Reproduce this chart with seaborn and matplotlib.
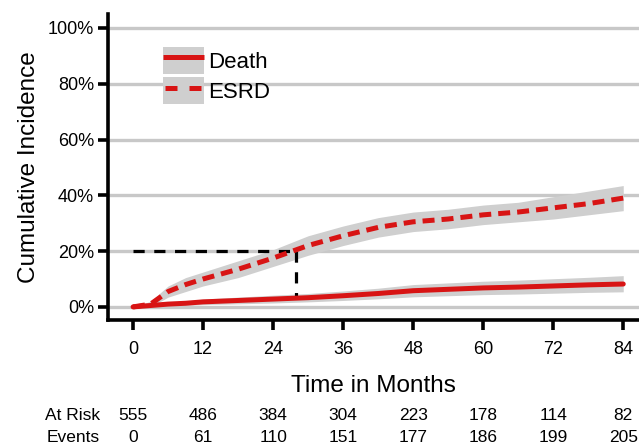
import matplotlib
matplotlib.use("Agg")
import matplotlib.pyplot as plt
import matplotlib.transforms as mtransforms
from matplotlib.patches import Patch
from matplotlib.lines import Line2D
import seaborn as sns
import pandas as pd

months = [0, 3, 6, 9, 12, 18, 24, 30, 36, 42, 48, 54, 60, 66, 72, 78, 84]
esrd = [0, 1, 5.5, 8, 10, 13.5, 17.5, 22, 25.5, 28.5, 30.5, 31.5, 33, 34, 35.5, 37, 39]
esrd_lo = [0, 0, 3.5, 5.5, 7.5, 10.5, 14.5, 18.5, 22, 25, 27, 28, 29.5, 30.5, 31.5, 33, 34.5]
esrd_hi = [0, 2, 7.5, 10.5, 12.5, 16.5, 20.5, 25.5, 29, 32, 34, 35, 36.5, 37.5, 39.5, 41.5, 43.5]
death = [0, 0.5, 1, 1.3, 1.8, 2.3, 2.8, 3.3, 4, 4.8, 5.8, 6.3, 6.8, 7.1, 7.5, 7.9, 8.2]
death_lo = [0, 0, 0.3, 0.5, 0.8, 1.1, 1.4, 1.8, 2.3, 2.9, 3.6, 4, 4.4, 4.6, 4.9, 5.2, 5.4]
death_hi = [0, 1, 1.7, 2.1, 2.8, 3.5, 4.2, 4.8, 5.7, 6.7, 8, 8.6, 9.2, 9.6, 10.1, 10.6, 11.2]

xticks = [0, 12, 24, 36, 48, 60, 72, 84]
at_risk = [555, 486, 384, 304, 223, 178, 114, 82]
events = [0, 61, 110, 151, 177, 186, 199, 205]
ref_month, ref_pct, ref_bottom = 28, 20, 3

sns.set_style("white")
plt.rcParams['font.family'] = ['Liberation Sans', 'DejaVu Sans']
plt.rcParams.update({"text.color": "black", "axes.labelcolor": "black",
                     "xtick.color": "black", "ytick.color": "black"})

red = "#d81414"
band = "#cfcfcf"

fig = plt.figure(figsize=(6.39, 4.47), dpi=100)
ax = fig.add_axes([108/639, 1-320/447, 1-108/639, (320-14)/447])

for y in range(0, 101, 20):
    ax.axhline(y, color="#c8c8c8", lw=2.4, zorder=0)

ax.fill_between(months, esrd_lo, esrd_hi, color=band, lw=0, zorder=1)
ax.fill_between(months, death_lo, death_hi, color=band, lw=0, zorder=1)

df = pd.DataFrame({"Month": months * 2,
                   "Incidence": death + esrd,
                   "Outcome": ["Death"] * len(months) + ["ESRD"] * len(months)})
sns.lineplot(data=df[df.Outcome == "Death"], x="Month", y="Incidence", color=red,
             lw=3.6, ax=ax, zorder=3, legend=False)
sns.lineplot(data=df[df.Outcome == "ESRD"], x="Month", y="Incidence", color=red,
             lw=3.6, ax=ax, zorder=3, legend=False, linestyle=(0, (2.4, 1.4)))

ax.plot([0, ref_month], [ref_pct, ref_pct], color="black", lw=2.3,
        dashes=(3.5, 3), zorder=2)
ax.plot([ref_month, ref_month], [ref_pct, ref_bottom], color="black", lw=2.3,
        dashes=(3.5, 3), zorder=2)

ax.set_xlim(-4.3, 86.7)
ax.set_ylim(-4.7, 105)
ax.set_xticks(xticks)
ax.set_yticks(range(0, 101, 20))
ax.set_yticklabels([f"{v}%" for v in range(0, 101, 20)])
ax.tick_params(axis="both", direction="out", length=7, width=2.6, labelsize=13,
               color="black", labelcolor="black", pad=3, bottom=True, left=True)
ax.tick_params(axis="x", pad=8)
for s in ["top", "right"]:
    ax.spines[s].set_visible(False)
for s in ["left", "bottom"]:
    ax.spines[s].set_linewidth(2.6)
    ax.spines[s].set_color("black")

ax.set_xlabel("Time in Months", fontsize=17.5, labelpad=12, color="black")
ax.set_ylabel("Cumulative Incidence", fontsize=17.5, labelpad=6, color="black")

handles = [(Patch(facecolor=band, edgecolor="none"),
            Line2D([], [], color=red, lw=3.6, solid_capstyle="butt")),
           (Patch(facecolor=band, edgecolor="none"),
            Line2D([], [], color=red, lw=3.6, dash_capstyle="butt",
                   linestyle=(4.4, (2.4, 2.4))))]
leg = ax.legend(handles, ["Death", "ESRD"], loc="upper left", bbox_to_anchor=(0.103, 0.893),
                frameon=False, fontsize=16, handlelength=1.85, handleheight=1.5,
                handletextpad=0.2, labelspacing=0.15, borderaxespad=0, borderpad=0)
for t in leg.get_texts():
    t.set_color("black")

trans = mtransforms.blended_transform_factory(ax.transData, fig.transFigure)
row_y = [1-415/447, 1-437/447]
for i, (label, vals) in enumerate([("At Risk", at_risk), ("Events", events)]):
    fig.text(100/639, row_y[i], label, ha="right", va="center", fontsize=12.5, color="black")
    for m, v in zip(xticks, vals):
        ax.text(m, row_y[i], str(v), ha="center", va="center", fontsize=12.5,
                transform=trans, clip_on=False, color="black")

fig.savefig("out.png", dpi=100)
